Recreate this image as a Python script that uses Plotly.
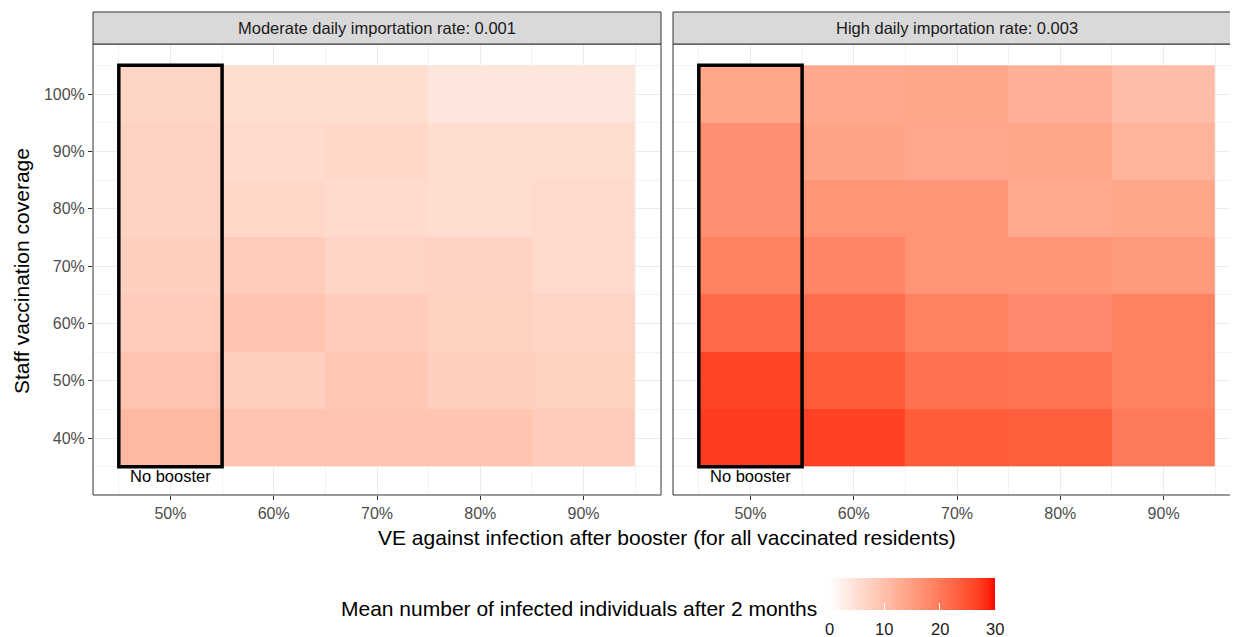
import plotly.graph_objects as go

# ---------------- data ----------------
booster_ve = [50, 60, 70, 80, 90]
staff_cov = [40, 50, 60, 70, 80, 90, 100]
x_tick_labels = ["50%", "60%", "70%", "80%", "90%"]
y_tick_labels = ["40%", "50%", "60%", "70%", "80%", "90%", "100%"]
panel_titles = ["Moderate daily importation rate: 0.001", "High daily importation rate: 0.003"]

# rows: staff coverage 40% -> 100%, columns: VE 50% -> 90%
z_moderate = [
    [11.0, 9.4, 9.1, 9.1, 8.1],
    [9.4, 7.6, 8.7, 7.5, 7.2],
    [8.1, 9.3, 8.1, 7.2, 6.8],
    [7.5, 8.1, 6.8, 7.0, 5.9],
    [6.9, 6.2, 5.6, 5.3, 5.9],
    [6.9, 5.6, 6.2, 5.3, 5.3],
    [6.6, 5.3, 5.3, 4.0, 4.0],
]
z_high = [
    [27.2, 26.6, 23.8, 23.6, 20.1],
    [26.3, 23.9, 21.5, 20.7, 19.2],
    [22.3, 21.8, 19.2, 17.8, 19.2],
    [19.2, 18.6, 16.4, 16.1, 15.6],
    [17.2, 16.4, 16.4, 13.3, 13.8],
    [17.1, 14.2, 13.5, 13.8, 11.8],
    [13.8, 13.5, 13.8, 12.4, 10.5],
]
legend_ticks = [0, 10, 20, 30]
legend_title = "Mean number of infected individuals after 2 months"
x_title = "VE against infection after booster (for all vaccinated residents)"
y_title = "Staff vaccination coverage"
box_label = "No booster"
zmin, zmax = 0, 30

# ---------------- colour scale (Lab interpolation white -> red, like ggplot) ----------------
def lab_to_hex(L, a, b):
    fy = (L + 16) / 116
    fx = fy + a / 500
    fz = fy - b / 200
    def finv(t):
        return t ** 3 if t ** 3 > 0.008856 else (t - 16 / 116) / 7.787
    X = 0.95047 * finv(fx)
    Y = 1.0 * finv(fy)
    Z = 1.08883 * finv(fz)
    r = 3.2406 * X - 1.5372 * Y - 0.4986 * Z
    g = -0.9689 * X + 1.8758 * Y + 0.0415 * Z
    bb = 0.0557 * X - 0.2040 * Y + 1.0570 * Z
    def gam(c):
        c = min(max(c, 0), 1)
        return 12.92 * c if c <= 0.0031308 else 1.055 * c ** (1 / 2.4) - 0.055
    return "#%02X%02X%02X" % tuple(int(round(gam(c) * 255)) for c in (r, g, bb))

white_lab = (100.0, 0.0, 0.0)
red_lab = (53.24, 80.09, 67.20)
n = 30
colorscale = []
for i in range(n + 1):
    t = i / n
    lab = [white_lab[k] + (red_lab[k] - white_lab[k]) * t for k in range(3)]
    colorscale.append([t, lab_to_hex(*lab)])

# ---------------- layout geometry (page has an 8px body margin) ----------------
OFF = 8
W, H = 1238 - OFF, 637 - OFF
ML, MR, MT = 93 - OFF, 0, 12 - OFF
MB = H - (495 - OFF)
pw = W - ML - MR
ph = H - MT - MB
strip_px = 32
y_top = 1 - strip_px / ph

def px_x(p):  # p: x pixel in the reference picture
    return (p - OFF - ML) / pw

def px_y(p):  # p: y pixel in the reference picture
    return (H - MB - (p - OFF)) / ph

dom1 = [0, px_x(661)]
dom2 = [px_x(673), 1]

CB_LEFT, CB_RIGHT = 829, 995

FONT = "Liberation Sans, Arial, sans-serif"
fig = go.Figure()

for i, (z, dom) in enumerate([(z_moderate, dom1), (z_high, dom2)]):
    xa = "x" if i == 0 else "x2"
    ya = "y" if i == 0 else "y2"
    fig.add_trace(go.Heatmap(
        x=booster_ve, y=staff_cov, z=z,
        xaxis=xa, yaxis=ya,
        colorscale=colorscale, zmin=zmin, zmax=zmax,
        showscale=(i == 0),
        colorbar=dict(
            orientation="h",
            x=px_x((CB_LEFT + CB_RIGHT) / 2), xanchor="center",
            y=px_y(578), yanchor="top",
            len=CB_RIGHT - CB_LEFT, lenmode="pixels",
            thickness=32, thicknessmode="pixels",
            xpad=0, ypad=0,
            outlinewidth=0,
            tickvals=legend_ticks,
            ticks="inside", ticklen=7, tickcolor="white", tickwidth=1,
            showticklabels=False,
        ),
        hovertemplate="%{x}%, %{y}%: %{z}<extra></extra>",
    ))

axis_common = dict(
    showgrid=True, gridcolor="#EBEBEB", gridwidth=1,
    zeroline=False, showline=False,
    ticks="outside", ticklen=4, tickcolor="#333333", tickwidth=1,
    tickfont=dict(size=16, color="#4D4D4D", family=FONT),
    minor=dict(showgrid=True, gridcolor="#F3F3F3", gridwidth=0.6, tick0=35, dtick=10, ticks=""),
)

fig.update_layout(
    width=W, height=H,
    margin=dict(l=ML, r=MR, t=MT, b=MB, autoexpand=False),
    paper_bgcolor="white", plot_bgcolor="white",
    font=dict(family=FONT, color="#1A1A1A"),
    xaxis=dict(axis_common, domain=dom1, range=[42.5, 97.5], tickvals=booster_ve, ticktext=x_tick_labels, anchor="y"),
    xaxis2=dict(axis_common, domain=dom2, range=[42.5, 97.2], tickvals=booster_ve, ticktext=x_tick_labels, anchor="y2"),
    yaxis=dict(axis_common, domain=[0, y_top], range=[30.06, 108.72], tickvals=staff_cov, ticktext=y_tick_labels, anchor="x"),
    yaxis2=dict(axis_common, domain=[0, y_top], range=[30.06, 108.72], tickvals=staff_cov, showticklabels=False, ticks="", anchor="x2"),
)

shapes = []
border = dict(color="#333333", width=1)
# panel borders
shapes.append(dict(type="rect", xref="paper", yref="paper", x0=dom1[0], x1=dom1[1], y0=0, y1=y_top, line=border, layer="above"))
for (x0, y0, x1, y1) in [(dom2[0], 0, dom2[0], y_top), (dom2[0], 0, 1.01, 0), (dom2[0], y_top, 1.01, y_top)]:
    shapes.append(dict(type="line", xref="paper", yref="paper", x0=x0, x1=x1, y0=y0, y1=y1, line=border, layer="above"))
# strips
for dom in (dom1, dom2):
    shapes.append(dict(type="rect", xref="paper", yref="paper", x0=dom[0], x1=dom[1] if dom is dom1 else 1.01,
                       y0=y_top, y1=1, fillcolor="#D9D9D9", line=border, layer="above"))
# "No booster" boxes
for xr, yr in (("x", "y"), ("x2", "y2")):
    shapes.append(dict(type="rect", xref=xr, yref=yr, x0=45, x1=55, y0=35, y1=105,
                       line=dict(color="black", width=3.5), layer="above"))
fig.update_layout(shapes=shapes)

ann = []
for dom, title in zip((dom1, [dom2[0], px_x(673 + 568)]), panel_titles):
    ann.append(dict(text=title, xref="paper", yref="paper", x=(dom[0] + dom[1]) / 2, y=(y_top + 1) / 2,
                    showarrow=False, xanchor="center", yanchor="middle",
                    font=dict(size=16.5, color="#1A1A1A", family=FONT)))
for xr, yr in (("x", "y"), ("x2", "y2")):
    ann.append(dict(text=box_label, xref=xr, yref=yr, x=50, y=33.3, showarrow=False,
                    xanchor="center", yanchor="middle", font=dict(size=16.5, color="black", family=FONT)))
ann.append(dict(text=x_title, xref="paper", yref="paper", x=px_x(667), y=px_y(537), showarrow=False,
                xanchor="center", yanchor="middle", font=dict(size=21, color="black", family=FONT)))
ann.append(dict(text=y_title, xref="paper", yref="paper", x=px_x(22), y=px_y(271), showarrow=False,
                xanchor="center", yanchor="middle", textangle=-90, font=dict(size=21, color="black", family=FONT)))
ann.append(dict(text=legend_title, xref="paper", yref="paper", x=px_x(819), y=px_y(608), showarrow=False,
                xanchor="right", yanchor="middle", font=dict(size=21, color="black", family=FONT)))
# colour bar tick labels, placed along the bar by value
for v in legend_ticks:
    xp = CB_LEFT + (v - zmin) / (zmax - zmin) * (CB_RIGHT - CB_LEFT)
    ann.append(dict(text=str(v), xref="paper", yref="paper", x=px_x(xp), y=px_y(629), showarrow=False,
                    xanchor="center", yanchor="middle", font=dict(size=16.5, color="#1A1A1A", family=FONT)))
fig.update_layout(annotations=ann)

fig.write_html("out.html")
